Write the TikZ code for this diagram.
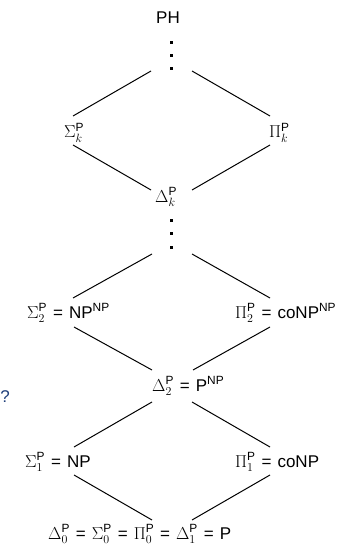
\documentclass[tikz,border=0pt]{standalone}
\usepackage{amsmath}
\usepackage[no-math]{fontspec}
\setmainfont{Liberation Sans}
\definecolor{qblue}{HTML}{1F3F7A}
\newcommand{\SP}{\text{P}}
\newcommand{\EQ}{\hspace{6pt}=\hspace{6pt}}
\begin{document}
\begin{tikzpicture}[x=1pt,y=-1pt,
  lbl/.style={inner sep=0pt,anchor=base west,font=\fontsize{17}{20}\selectfont},
  conn/.style={line width=1pt,black},
  dotsq/.style={fill=black,minimum size=3pt,inner sep=0pt,draw=none,rectangle}]
\useasboundingbox (0,0) rectangle (347,545);
% labels
\node[inner sep=0pt,font=\fontsize{17}{20}\selectfont] (ph) at (168,18) {PH};
\node[lbl] (sk) at (64,138) {$\Sigma_k^{\SP}$};
\node[lbl] (pk) at (269,138) {$\Pi_k^{\SP}$};
\node[lbl] (dk) at (155,202) {$\Delta_k^{\SP}$};
\node[lbl] (s2) at (27,318) {$\Sigma_2^{\SP}$\EQ NP$^{\text{NP}}$};
\node[lbl] (p2) at (235,318) {$\Pi_2^{\SP}$\EQ coNP$^{\text{NP}}$};
\node[lbl] (d2) at (152,391) {$\Delta_2^{\SP}$\EQ P$^{\text{NP}}$};
\node[lbl] (s1) at (25,467) {$\Sigma_1^{\SP}$\EQ NP};
\node[lbl] (p1) at (235,467) {$\Pi_1^{\SP}$\EQ coNP};
\node[lbl] (bot) at (48,539) {$\Delta_0^{\SP}$\EQ$\Sigma_0^{\SP}$\EQ$\Pi_0^{\SP}$\EQ$\Delta_1^{\SP}$\EQ P};
\node[inner sep=0pt,font=\fontsize{17}{20}\selectfont,text=qblue] (q) at (5,397) {?};
% dots
\foreach \y [count=\i] in {43,56,69} \node[dotsq] (ua\i) at (171,\y) {};
\foreach \y [count=\i] in {220,233,247} \node[dotsq] (ub\i) at (171,\y) {};
% connector end points
\foreach \n/\x/\y in {a1/151/71,a2/73/116,b1/192/71,b2/270/116,
  c1/73/145,c2/151/190,d1/270/145,d2/192/190,
  e1/152/254,e2/73/298,f1/192/254,f2/270/298,
  g1/74/327,g2/152/370,h1/270/327,h2/193/370,
  i1/152/402,i2/74/447,j1/192/402,j2/270/447,
  k1/74/475,k2/152/520,l1/270/475,l2/192/520}
  \coordinate (\n) at (\x,\y);
\foreach \p in {a,b,c,d,e,f,g,h,i,j,k,l}
  \draw[conn] (\p1) -- (\p2);
\end{tikzpicture}
\end{document}
